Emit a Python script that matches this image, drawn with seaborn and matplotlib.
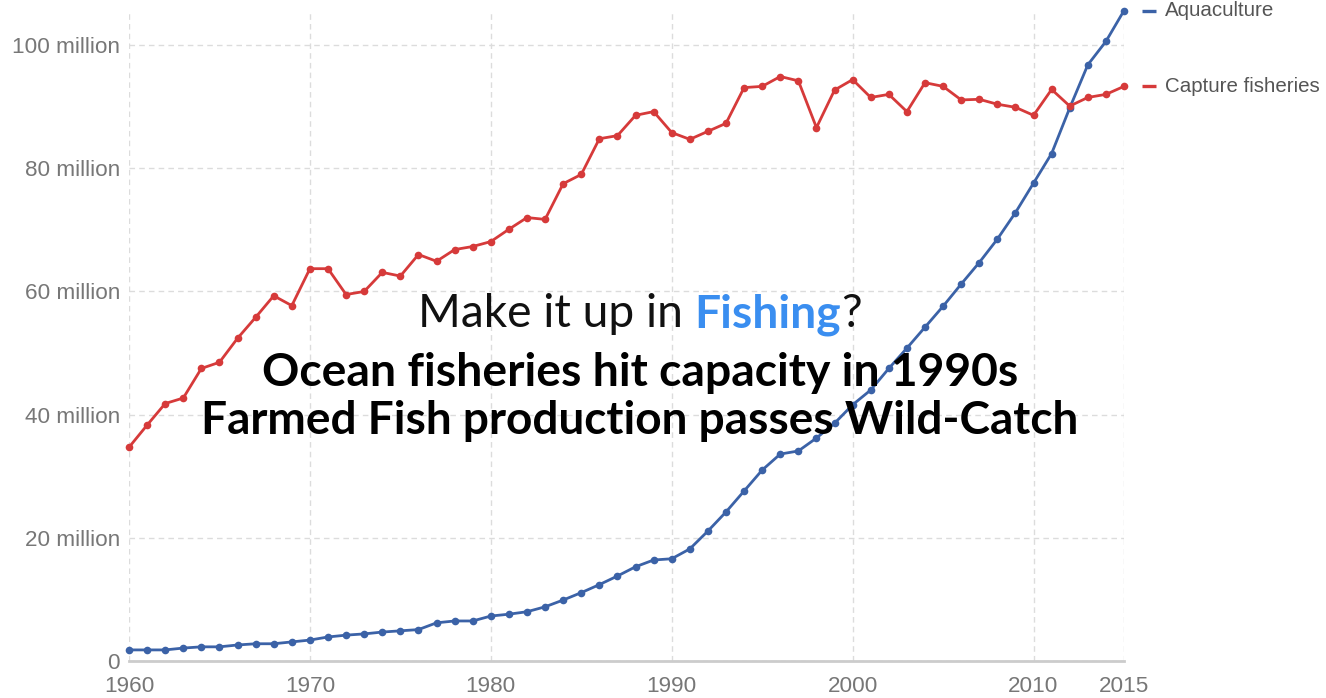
import matplotlib
matplotlib.use("Agg")
import matplotlib.pyplot as plt
import matplotlib.transforms as mtransforms
import pandas as pd
import seaborn as sns

# World fish production, million tonnes per year
years = list(range(1960, 2016))
capture = [34.7, 38.3, 41.8, 42.7, 47.5, 48.5, 52.4, 55.8, 59.3, 57.7,
           63.7, 63.7, 59.5, 60.0, 63.1, 62.5, 66.0, 64.9, 66.8, 67.3,
           68.1, 70.1, 72.0, 71.7, 77.5, 79.0, 84.8, 85.3, 88.6, 89.2,
           85.8, 84.7, 86.0, 87.3, 93.1, 93.3, 94.9, 94.2, 86.6, 92.7,
           94.4, 91.5, 92.0, 89.2, 93.9, 93.3, 91.1, 91.2, 90.4, 89.9,
           88.6, 92.8, 90.1, 91.5, 92.0, 93.3]
aquaculture = [1.8, 1.8, 1.8, 2.1, 2.3, 2.3, 2.6, 2.8, 2.8, 3.1,
               3.4, 3.9, 4.2, 4.4, 4.7, 4.9, 5.1, 6.2, 6.5, 6.5,
               7.3, 7.6, 8.0, 8.8, 9.9, 11.1, 12.4, 13.8, 15.3, 16.4,
               16.6, 18.2, 21.1, 24.2, 27.6, 31.0, 33.6, 34.1, 36.2, 38.6,
               41.6, 44.0, 47.5, 50.8, 54.2, 57.6, 61.2, 64.7, 68.5, 72.8,
               77.6, 82.4, 89.8, 96.8, 100.6, 105.6]

series_names = ["Aquaculture", "Capture fisheries"]
series_colors = ["#3b62a7", "#d63a3a"]
xticks = [1960, 1970, 1980, 1990, 2000, 2010, 2015]
yticks = [0, 20, 40, 60, 80, 100]
ytick_labels = ["0", "20 million", "40 million", "60 million", "80 million", "100 million"]

headline_1 = ["Make it up in ", "Fishing", "?"]
headline_2 = "Ocean fisheries hit capacity in 1990s"
headline_3 = "Farmed Fish production passes Wild-Catch"

df = pd.DataFrame({
    "year": years + years,
    "tonnes": aquaculture + capture,
    "source": [series_names[0]] * len(years) + [series_names[1]] * len(years),
})
palette = dict(zip(series_names, series_colors))

sns.set_theme(style="white")
plt.rcParams["font.family"] = ["Liberation Sans", "DejaVu Sans"]

W, H = 1326, 698
fig = plt.figure(figsize=(W / 100, H / 100), dpi=100)
fig.patch.set_facecolor("white")
ax = fig.add_axes([129 / W, 37 / H, 995 / W, 651 / H])

sns.lineplot(data=df, x="year", y="tonnes", hue="source", palette=palette,
             marker="o", markersize=5.5, markeredgewidth=0, linewidth=2,
             legend=False, ax=ax, clip_on=False, zorder=3)

ax.set_xlim(1960, 2015)
ax.set_ylim(0, 105.7)
ax.set_xticks(xticks)
ax.set_xticklabels([str(x) for x in xticks])
ax.set_yticks(yticks)
ax.set_yticklabels(ytick_labels)
ax.set_xlabel("")
ax.set_ylabel("")
ax.grid(True, linestyle=(0, (4, 3)), color="#dcdcdc", linewidth=1)
for side in ["top", "right", "left"]:
    ax.spines[side].set_visible(False)
ax.spines["bottom"].set_color("#cccccc")
ax.spines["bottom"].set_linewidth(2)
ax.tick_params(axis="both", length=0, labelsize=16.2, labelcolor="#777777")
ax.tick_params(axis="y", pad=6.5)
ax.tick_params(axis="x", pad=10.5)

# End-of-line labels next to the last value of each series
for name, vals, color in zip(series_names, [aquaculture, capture], series_colors):
    last = vals[-1]
    dash_tr = mtransforms.offset_copy(ax.transData, fig=fig, x=25, y=0, units="dots")
    ax.plot([years[-1]], [last], marker="_", markersize=10, markeredgewidth=2.4,
            color=color, transform=dash_tr, clip_on=False)
    ax.annotate(name, xy=(years[-1], last), xytext=(41 * 0.72, 0),
                textcoords="offset points", ha="left", va="center",
                fontsize=14.8, color="#555555", annotation_clip=False)

# Headline block
renderer = fig.canvas.get_renderer()
head_font = ["Lato", "DejaVu Sans"]
cx = 640


def fitted_size(text, weight, target_px, base=30):
    t = fig.text(0, 0, text, fontsize=base, family=head_font, weight=weight)
    w = t.get_window_extent(renderer).width
    t.remove()
    return base * target_px / w


# first line: plain text with a bold blue highlight
size1 = fitted_size("".join(headline_1), "normal", 440)
pieces = []
for txt, weight, color in zip(headline_1, ["normal", "bold", "normal"],
                              ["#111111", "#3a8ef0", "#111111"]):
    t = fig.text(0, 0, txt, fontsize=size1, family=head_font, weight=weight,
                 color=color, va="baseline", ha="left")
    pieces.append(t)
widths = [p.get_window_extent(renderer).width for p in pieces]
x0 = cx - sum(widths) / 2
for p, w in zip(pieces, widths):
    p.set_position((x0 / W, 1 - 327 / H))
    x0 += w

for txt, target, base_y in [(headline_2, 755, 386), (headline_3, 876, 434)]:
    s = fitted_size(txt, "bold", target)
    fig.text(cx / W, 1 - base_y / H, txt, fontsize=s, family=head_font,
             weight="bold", color="#000000", ha="center", va="baseline")

fig.savefig("out.png", dpi=100, facecolor="white")
